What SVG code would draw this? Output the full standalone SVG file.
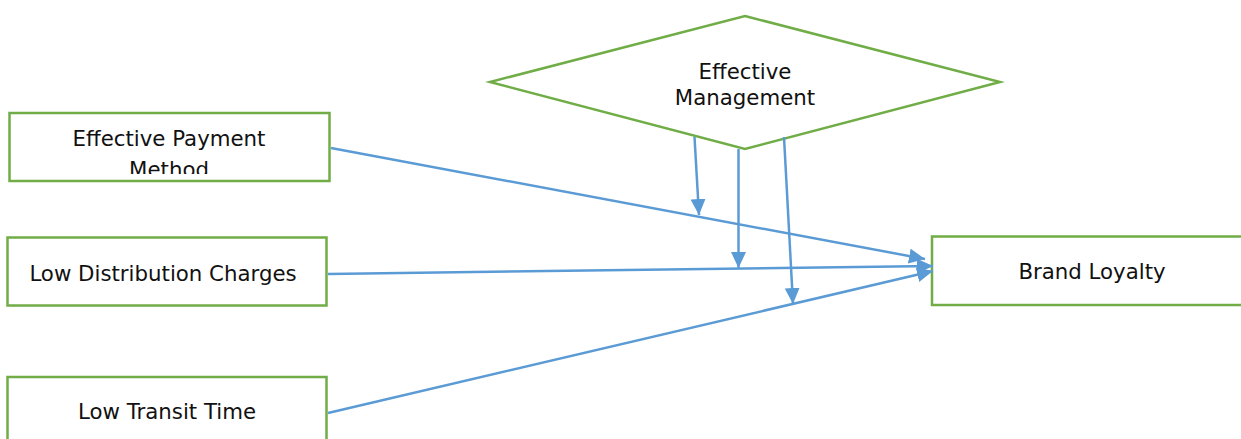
<svg xmlns="http://www.w3.org/2000/svg" width="1241" height="439" viewBox="0 0 1241 439">
  <style>
    .box { fill: #ffffff; stroke: #70ad47; stroke-width: 2.5; }
    .lbl { font-family: "DejaVu Sans", Verdana, sans-serif; font-size: 21.3px; fill: #111111; text-anchor: middle; }
    .conn { fill: none; stroke: #5b9bd5; stroke-width: 2.5; marker-end: url(#arrow); }
  </style>
  <defs>
    <marker id="arrow" markerUnits="userSpaceOnUse" markerWidth="17" markerHeight="15" refX="16" refY="7.5" orient="auto">
      <path d="M0,0 L16,7.5 L0,15 z" fill="#5b9bd5"/>
    </marker>
    <clipPath id="clip-payment">
      <rect x="11" y="115" width="317" height="59"/>
    </clipPath>
  </defs>
  <rect width="1241" height="439" fill="#ffffff"/>

  <g id="node-management">
    <polygon class="box" points="745,16 1000,82 745,149 490,82"/>
    <text class="lbl" x="745" y="79">Effective</text>
    <text class="lbl" x="745" y="105">Management</text>
  </g>

  <g id="node-payment">
    <rect class="box" x="9.5" y="113" width="320" height="68"/>
    <g clip-path="url(#clip-payment)">
      <text class="lbl" x="169" y="145.5">Effective Payment</text>
      <text class="lbl" x="169" y="177">Method</text>
    </g>
  </g>

  <g id="node-distribution">
    <rect class="box" x="7.5" y="237.5" width="319" height="68"/>
    <text class="lbl" x="163" y="281">Low Distribution Charges</text>
  </g>

  <g id="node-transit">
    <rect class="box" x="7.5" y="377" width="319" height="70"/>
    <text class="lbl" x="167" y="419">Low Transit Time</text>
  </g>

  <g id="node-loyalty">
    <rect class="box" x="932" y="236.5" width="320" height="68.5"/>
    <text class="lbl" x="1092" y="279">Brand Loyalty</text>
  </g>

  <g id="connectors">
    <line class="conn" x1="331" y1="148" x2="925" y2="259"/>
    <line class="conn" x1="328" y1="274" x2="933" y2="266"/>
    <line class="conn" x1="328" y1="413" x2="933" y2="271"/>
    <line class="conn" x1="694.5" y1="137" x2="699" y2="215"/>
    <line class="conn" x1="738.5" y1="149" x2="738.5" y2="268"/>
    <line class="conn" x1="784" y1="137" x2="793" y2="304"/>
  </g>
</svg>
